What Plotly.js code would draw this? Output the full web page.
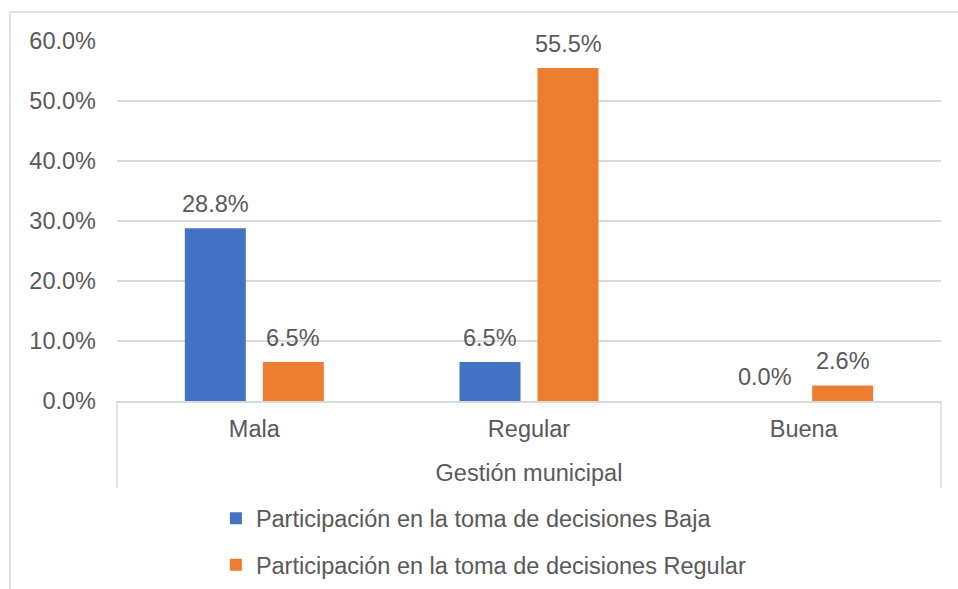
<!DOCTYPE html>
<html>
<head>
<meta charset="utf-8">
<script src="https://cdn.plot.ly/plotly-3.0.1.min.js"></script>
<style>html,body{margin:0;padding:0;background:#fff;}#chart{width:958px;height:589px;}</style>
</head>
<body>
<div id="chart"></div>
<script>
const categories = ["Mala", "Regular", "Buena"];
const seriesNames = ["Participación en la toma de decisiones Baja", "Participación en la toma de decisiones Regular"];
const bajaValues = [0.288, 0.065, 0.0];
const regularValues = [0.065, 0.555, 0.026];
const yTickVals = [0, 0.1, 0.2, 0.3, 0.4, 0.5, 0.6];
const xTitle = "Gestión municipal";

const FONT = "Liberation Sans, Arial, sans-serif";
const TXT = "#595959";
const GRID = "#d9d9d9";
const colors = ["#4472c4", "#ed7d31"];
const allSeries = [bajaValues, regularValues];

const traces = allSeries.map((vals, i) => ({
  type: "bar",
  name: seriesNames[i],
  x: categories,
  y: vals,
  marker: {color: colors[i]},
  legendgroup: "g" + i,
  hoverinfo: "x+y"
}));

const annotations = [];
allSeries.forEach((vals, i) => {
  vals.forEach((v, j) => {
    annotations.push({
      x: categories[j], y: v, xref: "x", yref: "y",
      text: (v * 100).toFixed(1) + "%",
      showarrow: false, yanchor: "bottom", xanchor: "center",
      xshift: i === 0 ? -39 : 39, yshift: 9,
      font: {family: FONT, size: 23.5, color: TXT}
    });
  });
});

const shapes = [
  {type: "rect", xref: "paper", yref: "paper", x0: -0.1299, x1: 1.2, y0: -1.2, y1: 1.0806,
   line: {color: GRID, width: 1.5}, fillcolor: "rgba(0,0,0,0)", layer: "below"},
  {type: "line", xref: "paper", yref: "paper", x0: 0, x1: 0, y0: 0, y1: -0.2417, line: {color: GRID, width: 1.5}},
  {type: "line", xref: "paper", yref: "paper", x0: 1, x1: 1, y0: 0, y1: -0.2417, line: {color: GRID, width: 1.5}}
];

const layout = {
  width: 958, height: 589,
  margin: {l: 117, r: 17, t: 41, b: 188},
  paper_bgcolor: "#fff", plot_bgcolor: "#fff",
  font: {family: FONT, size: 23.5, color: TXT},
  barmode: "group",
  bargap: 0.432,
  bargroupgap: 0.218,
  showlegend: true,
  legend: {
    orientation: "v", x: 0.12, xanchor: "left",
    yref: "container", y: 0.157, yanchor: "top",
    traceorder: "grouped", tracegroupgap: 13,
    font: {family: FONT, size: 23.5, color: TXT},
    bgcolor: "rgba(0,0,0,0)"
  },
  xaxis: {
    type: "category",
    showline: true, linecolor: GRID, linewidth: 1.5,
    showgrid: false, ticks: "", ticklabelstandoff: 6,
    tickfont: {family: FONT, size: 23.5, color: TXT},
    title: {text: xTitle, standoff: 24, font: {family: FONT, size: 23.5, color: TXT}},
    automargin: false
  },
  yaxis: {
    range: [0, 0.6],
    tickvals: yTickVals,
    tickformat: ".1%",
    showgrid: true, gridcolor: GRID, gridwidth: 1.5,
    zeroline: false, showline: false, ticks: "",
    ticklabelstandoff: 20,
    tickfont: {family: FONT, size: 23.5, color: TXT},
    automargin: false
  },
  annotations: annotations,
  shapes: shapes
};

Plotly.newPlot("chart", traces, layout, {displayModeBar: false, staticPlot: true});
</script>
</body>
</html>
